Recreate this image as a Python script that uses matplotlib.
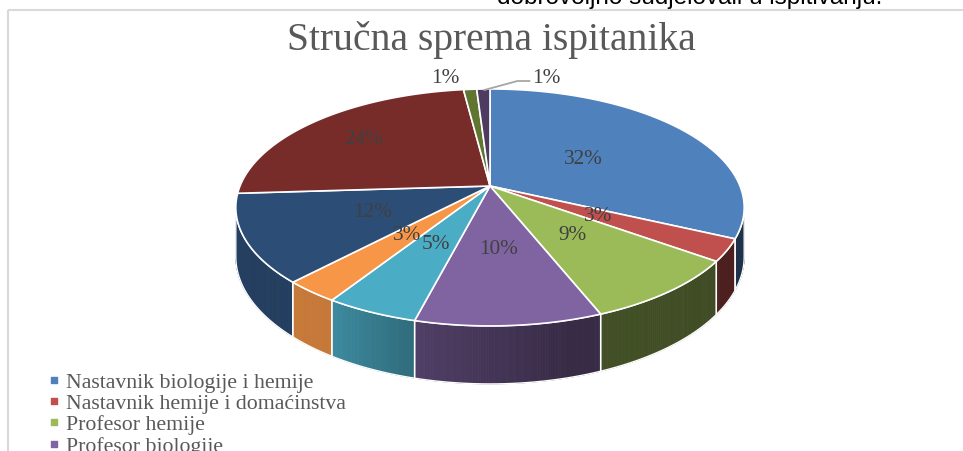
import numpy as np
import matplotlib.pyplot as plt
from matplotlib.patches import Polygon, Rectangle

# data, clockwise from 12 o'clock
shares = [32, 3, 9, 10, 5, 3, 12, 24, 1, 1]
pct_labels = ["32%", "3%", "9%", "10%", "5%", "3%", "12%", "24%", "1%", "1%"]
legend_labels = ["Nastavnik biologije i hemije",
                 "Nastavnik hemije i domaćinstva",
                 "Profesor hemije",
                 "Profesor biologije"]
colors = ["#4F81BD", "#C0504D", "#9BBB59", "#8064A2", "#4BACC6",
          "#F79646", "#2C4D75", "#772C2A", "#5F7530", "#4D3B62"]

title = "Stručna sprema ispitanika"
cut_text = "dobrovoljno sudjelovali u ispitivanju."

# 3d pie look (pixel space)
CX, CY = 490, 187
A, B = 250, 114.6
K = 0.181
T = 47.5
SERIF = "Liberation Serif"


def project(phi_deg, r=1.0, depth=0.0):
    phi = np.radians(phi_deg)
    u = r * np.sin(phi)
    v = r * np.cos(phi)
    w = 1 + K * v
    return CX + A * u / w, CY + (-B * v + depth) / w


def shade(c, f):
    rgb = np.array(plt.matplotlib.colors.to_rgb(c))
    return tuple(rgb * f)


def wall_factor(ang):
    return np.interp(ang, [100, 150, 165, 195, 212, 260],
                     [0.38, 0.42, 0.43, 0.63, 0.8, 0.82])


fig = plt.figure(figsize=(9.63, 4.52), dpi=100)
ax = fig.add_axes([0, 0, 1, 1])
ax.set_xlim(0, 963)
ax.set_ylim(452, 0)
ax.axis("off")

# chart frame + clipped sentence above it
ax.add_patch(Rectangle((8, 11), 1100, 600, fill=False, edgecolor="#d9d9d9", lw=1.5))
ax.text(497, 4, cut_text, fontsize=17.5, family="Liberation Sans",
        color="black", va="baseline", ha="left")

ax.text(491, 50, title, fontsize=28.5, family=SERIF, color="#595959",
        ha="center", va="baseline")

bounds = np.concatenate([[0], np.cumsum(shares)]) / sum(shares) * 360
vis_lo = np.degrees(np.arccos(-K))
vis_hi = 360 - vis_lo

# side walls
for i, c in enumerate(colors):
    s, e = bounds[i], bounds[i + 1]
    lo, hi = max(s, vis_lo), min(e, vis_hi)
    if hi <= lo:
        continue
    angs = np.linspace(lo, hi, max(int((hi - lo) * 2), 2))
    for a1, a2 in zip(angs[:-1], angs[1:]):
        x1, y1 = project(a1)
        x2, y2 = project(a2)
        x3, y3 = project(a2, depth=T)
        x4, y4 = project(a1, depth=T)
        fc = shade(c, wall_factor((a1 + a2) / 2))
        ax.add_patch(Polygon([(x1, y1), (x2, y2), (x3, y3), (x4, y4)],
                             facecolor=fc, edgecolor=fc, lw=0.6, zorder=2))
    tx, ty = project(angs)
    bx, by = project(angs[::-1], depth=T)
    ax.add_patch(Polygon(np.column_stack([np.r_[tx, bx], np.r_[ty, by]]),
                         fill=False, edgecolor="white", lw=1.0, zorder=2.5))

# top faces
for i, c in enumerate(colors):
    angs = np.linspace(bounds[i], bounds[i + 1], 80)
    ex, ey = project(angs)
    pts = np.column_stack([np.r_[CX, ex], np.r_[CY, ey]])
    ax.add_patch(Polygon(pts, facecolor=c, edgecolor="white", lw=1.2, zorder=3))

# data labels
lab_r = {0: 0.46, 1: 0.48, 7: 0.71}
for i, lab in enumerate(pct_labels[:8]):
    mid = (bounds[i] + bounds[i + 1]) / 2
    x, y = project(mid, r=lab_r.get(i, 0.5))
    ax.text(x, y, lab, fontsize=15.3, family=SERIF, color="#404040",
            ha="center", va="center", zorder=5)

# the two small slices get labels outside
mid8 = (bounds[8] + bounds[9]) / 2
x8, y8 = project(mid8)
ax.text(x8 - 25, y8 - 12, pct_labels[8], fontsize=15.3, family=SERIF,
        color="#404040", ha="center", va="center", zorder=5)
mid9 = (bounds[9] + bounds[10]) / 2
x9, y9 = project(mid9)
ax.plot([x9 + 1, x9 + 34, x9 + 46], [y9 + 1, y9 - 8, y9 - 8],
        color="#a6a6a6", lw=1.3, zorder=4)
ax.text(x9 + 49, y9 - 12, pct_labels[9], fontsize=15.3, family=SERIF,
        color="#404040", ha="left", va="center", zorder=5)

# legend (runs off the bottom edge)
for i, lab in enumerate(legend_labels):
    base = 387.7 + i * 21.3
    ax.scatter([54], [base - 7], marker="s", s=16, color=colors[i], zorder=5)
    ax.text(66, base, lab, fontsize=15.7, family=SERIF, color="#595959",
            ha="left", va="baseline")

fig.savefig("out.png", dpi=100)
